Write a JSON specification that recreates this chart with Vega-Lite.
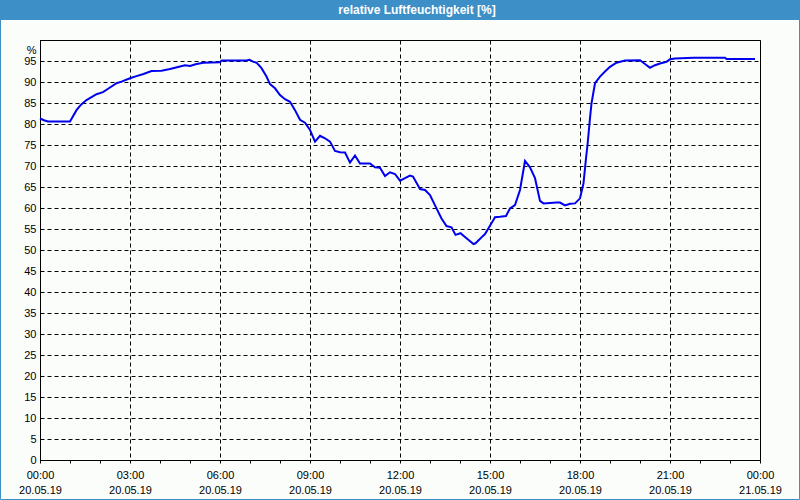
{
  "$schema": "https://vega.github.io/schema/vega-lite/v6.json",
  "width": 720,
  "height": 420,
  "autosize": {"type": "none"},
  "padding": {"left": 40, "top": 40, "right": 40, "bottom": 40},
  "background": "#fbfdfb",
  "title": {
    "text": "relative Luftfeuchtigkeit [%]",
    "color": "#ffffff",
    "font": "Liberation Sans",
    "fontSize": 12,
    "fontWeight": "bold",
    "anchor": "middle",
    "frame": "group",
    "baseline": "middle",
    "offset": 0,
    "dy": 22,
    "dx": 17
  },
  "config": {
    "view": {"stroke": "#000000", "strokeWidth": 1},
    "axis": {
      "labelFont": "Liberation Sans",
      "labelFontSize": 11,
      "labelColor": "#000000",
      "domainColor": "#000000",
      "tickColor": "#000000",
      "gridColor": "#000000",
      "gridDash": [4, 3],
      "gridWidth": 1,
      "title": null
    }
  },
  "layer": [
    {
      "data": {
        "values": [
          {"zeit": "2019-05-20T00:00:00Z", "rh": 81.3},
          {"zeit": "2019-05-20T00:08:00Z", "rh": 80.9},
          {"zeit": "2019-05-20T00:16:00Z", "rh": 80.6},
          {"zeit": "2019-05-20T01:00:00Z", "rh": 80.6},
          {"zeit": "2019-05-20T01:13:00Z", "rh": 83.3},
          {"zeit": "2019-05-20T01:22:00Z", "rh": 84.6},
          {"zeit": "2019-05-20T01:33:00Z", "rh": 85.7},
          {"zeit": "2019-05-20T01:53:00Z", "rh": 87.1},
          {"zeit": "2019-05-20T02:06:00Z", "rh": 87.6},
          {"zeit": "2019-05-20T02:20:00Z", "rh": 88.7},
          {"zeit": "2019-05-20T02:33:00Z", "rh": 89.7},
          {"zeit": "2019-05-20T02:43:00Z", "rh": 90.1},
          {"zeit": "2019-05-20T03:00:00Z", "rh": 90.9},
          {"zeit": "2019-05-20T03:13:00Z", "rh": 91.4},
          {"zeit": "2019-05-20T03:27:00Z", "rh": 91.9},
          {"zeit": "2019-05-20T03:43:00Z", "rh": 92.6},
          {"zeit": "2019-05-20T04:03:00Z", "rh": 92.7},
          {"zeit": "2019-05-20T04:20:00Z", "rh": 93.1},
          {"zeit": "2019-05-20T04:40:00Z", "rh": 93.7},
          {"zeit": "2019-05-20T04:50:00Z", "rh": 94.0},
          {"zeit": "2019-05-20T05:00:00Z", "rh": 93.8},
          {"zeit": "2019-05-20T05:13:00Z", "rh": 94.3},
          {"zeit": "2019-05-20T05:27:00Z", "rh": 94.6},
          {"zeit": "2019-05-20T06:00:00Z", "rh": 94.7},
          {"zeit": "2019-05-20T06:03:00Z", "rh": 95.1},
          {"zeit": "2019-05-20T06:53:00Z", "rh": 95.1},
          {"zeit": "2019-05-20T06:59:00Z", "rh": 95.3},
          {"zeit": "2019-05-20T07:07:00Z", "rh": 94.8},
          {"zeit": "2019-05-20T07:13:00Z", "rh": 94.6},
          {"zeit": "2019-05-20T07:23:00Z", "rh": 93.3},
          {"zeit": "2019-05-20T07:33:00Z", "rh": 91.3},
          {"zeit": "2019-05-20T07:40:00Z", "rh": 89.5},
          {"zeit": "2019-05-20T07:50:00Z", "rh": 88.5},
          {"zeit": "2019-05-20T08:00:00Z", "rh": 86.9},
          {"zeit": "2019-05-20T08:10:00Z", "rh": 85.9},
          {"zeit": "2019-05-20T08:20:00Z", "rh": 85.3},
          {"zeit": "2019-05-20T08:30:00Z", "rh": 83.3},
          {"zeit": "2019-05-20T08:40:00Z", "rh": 81.0},
          {"zeit": "2019-05-20T08:50:00Z", "rh": 80.3},
          {"zeit": "2019-05-20T09:00:00Z", "rh": 78.6},
          {"zeit": "2019-05-20T09:10:00Z", "rh": 75.8},
          {"zeit": "2019-05-20T09:20:00Z", "rh": 77.2},
          {"zeit": "2019-05-20T09:30:00Z", "rh": 76.6},
          {"zeit": "2019-05-20T09:40:00Z", "rh": 75.8},
          {"zeit": "2019-05-20T09:50:00Z", "rh": 73.6},
          {"zeit": "2019-05-20T10:00:00Z", "rh": 73.3},
          {"zeit": "2019-05-20T10:10:00Z", "rh": 73.2},
          {"zeit": "2019-05-20T10:20:00Z", "rh": 70.8},
          {"zeit": "2019-05-20T10:30:00Z", "rh": 72.5},
          {"zeit": "2019-05-20T10:40:00Z", "rh": 70.6},
          {"zeit": "2019-05-20T11:00:00Z", "rh": 70.6},
          {"zeit": "2019-05-20T11:10:00Z", "rh": 69.7},
          {"zeit": "2019-05-20T11:20:00Z", "rh": 69.6},
          {"zeit": "2019-05-20T11:30:00Z", "rh": 67.6},
          {"zeit": "2019-05-20T11:40:00Z", "rh": 68.5},
          {"zeit": "2019-05-20T11:50:00Z", "rh": 68.1},
          {"zeit": "2019-05-20T12:00:00Z", "rh": 66.5},
          {"zeit": "2019-05-20T12:10:00Z", "rh": 67.1},
          {"zeit": "2019-05-20T12:20:00Z", "rh": 67.7},
          {"zeit": "2019-05-20T12:26:00Z", "rh": 67.5},
          {"zeit": "2019-05-20T12:40:00Z", "rh": 64.5},
          {"zeit": "2019-05-20T12:50:00Z", "rh": 64.3},
          {"zeit": "2019-05-20T13:00:00Z", "rh": 63.1},
          {"zeit": "2019-05-20T13:13:00Z", "rh": 59.9},
          {"zeit": "2019-05-20T13:23:00Z", "rh": 57.5},
          {"zeit": "2019-05-20T13:33:00Z", "rh": 55.7},
          {"zeit": "2019-05-20T13:43:00Z", "rh": 55.4},
          {"zeit": "2019-05-20T13:51:00Z", "rh": 53.6},
          {"zeit": "2019-05-20T14:01:00Z", "rh": 54.0},
          {"zeit": "2019-05-20T14:13:00Z", "rh": 52.8},
          {"zeit": "2019-05-20T14:27:00Z", "rh": 51.4},
          {"zeit": "2019-05-20T14:31:00Z", "rh": 51.6},
          {"zeit": "2019-05-20T14:43:00Z", "rh": 53.0},
          {"zeit": "2019-05-20T14:50:00Z", "rh": 53.8},
          {"zeit": "2019-05-20T14:57:00Z", "rh": 55.2},
          {"zeit": "2019-05-20T15:10:00Z", "rh": 57.8},
          {"zeit": "2019-05-20T15:20:00Z", "rh": 57.9},
          {"zeit": "2019-05-20T15:32:00Z", "rh": 58.1},
          {"zeit": "2019-05-20T15:40:00Z", "rh": 59.9},
          {"zeit": "2019-05-20T15:50:00Z", "rh": 60.7},
          {"zeit": "2019-05-20T16:00:00Z", "rh": 64.3},
          {"zeit": "2019-05-20T16:10:00Z", "rh": 71.2},
          {"zeit": "2019-05-20T16:20:00Z", "rh": 69.7},
          {"zeit": "2019-05-20T16:30:00Z", "rh": 67.1},
          {"zeit": "2019-05-20T16:40:00Z", "rh": 61.7},
          {"zeit": "2019-05-20T16:47:00Z", "rh": 61.1},
          {"zeit": "2019-05-20T17:13:00Z", "rh": 61.3},
          {"zeit": "2019-05-20T17:20:00Z", "rh": 61.3},
          {"zeit": "2019-05-20T17:30:00Z", "rh": 60.6},
          {"zeit": "2019-05-20T17:40:00Z", "rh": 61.0},
          {"zeit": "2019-05-20T17:50:00Z", "rh": 61.1},
          {"zeit": "2019-05-20T18:00:00Z", "rh": 62.3},
          {"zeit": "2019-05-20T18:07:00Z", "rh": 65.9},
          {"zeit": "2019-05-20T18:12:00Z", "rh": 71.8},
          {"zeit": "2019-05-20T18:15:00Z", "rh": 75.0},
          {"zeit": "2019-05-20T18:20:00Z", "rh": 81.4},
          {"zeit": "2019-05-20T18:23:00Z", "rh": 84.9},
          {"zeit": "2019-05-20T18:30:00Z", "rh": 89.7},
          {"zeit": "2019-05-20T18:40:00Z", "rh": 91.3},
          {"zeit": "2019-05-20T18:50:00Z", "rh": 92.5},
          {"zeit": "2019-05-20T19:00:00Z", "rh": 93.6},
          {"zeit": "2019-05-20T19:13:00Z", "rh": 94.6},
          {"zeit": "2019-05-20T19:30:00Z", "rh": 95.1},
          {"zeit": "2019-05-20T20:00:00Z", "rh": 95.2},
          {"zeit": "2019-05-20T20:10:00Z", "rh": 94.3},
          {"zeit": "2019-05-20T20:20:00Z", "rh": 93.4},
          {"zeit": "2019-05-20T20:30:00Z", "rh": 94.0},
          {"zeit": "2019-05-20T20:40:00Z", "rh": 94.4},
          {"zeit": "2019-05-20T20:53:00Z", "rh": 94.8},
          {"zeit": "2019-05-20T21:00:00Z", "rh": 95.4},
          {"zeit": "2019-05-20T21:10:00Z", "rh": 95.6},
          {"zeit": "2019-05-20T21:47:00Z", "rh": 95.8},
          {"zeit": "2019-05-20T22:50:00Z", "rh": 95.8},
          {"zeit": "2019-05-20T22:53:00Z", "rh": 95.5},
          {"zeit": "2019-05-20T23:50:00Z", "rh": 95.5}
        ]
      },
      "mark": {"type": "line", "color": "#0000ee", "strokeWidth": 2},
      "encoding": {
        "x": {
          "field": "zeit",
          "type": "temporal",
          "scale": {"type": "utc", "domain": [1558310400000, 1558396800000]},
          "axis": {
            "values": [1558310400000, 1558314000000, 1558317600000, 1558321200000, 1558324800000, 1558328400000, 1558332000000, 1558335600000, 1558339200000, 1558342800000, 1558346400000, 1558350000000, 1558353600000, 1558357200000, 1558360800000, 1558364400000, 1558368000000, 1558371600000, 1558375200000, 1558378800000, 1558382400000, 1558386000000, 1558389600000, 1558393200000, 1558396800000],
            "grid": true,
            "gridOpacity": {"condition": {"test": "utchours(datum.value) % 3 == 0", "value": 1}, "value": 0},
            "ticks": true,
            "tickSize": 3,
            "labelPadding": 6,
            "labelBaseline": "top",
            "labelLineHeight": 15,
            "labelOverlap": false,
            "labelFlush": false,
            "labelBound": false,
            "labelExpr": "utchours(datum.value) % 3 == 0 ? [utcFormat(datum.value, '%H:%M'), utcFormat(datum.value, '%d.%m.%y')] : ''"
          }
        },
        "y": {
          "field": "rh",
          "type": "quantitative",
          "scale": {"domain": [0, 100]},
          "axis": {
            "values": [0, 5, 10, 15, 20, 25, 30, 35, 40, 45, 50, 55, 60, 65, 70, 75, 80, 85, 90, 95, 100],
            "grid": true,
            "ticks": false,
            "tickSize": 0,
            "labelPadding": 4,
            "labelLineHeight": 10,
            "labelOverlap": false,
            "labelFlush": false,
            "labelExpr": "datum.value == 100 ? ['', '%'] : datum.label"
          }
        }
      }
    },
    {
      "data": {"values": [{"teil": "Titelleiste"}]},
      "mark": {"type": "rect", "color": "#3d8fc7"},
      "encoding": {
        "x": {
          "datum": 1558305600000,
          "type": "temporal",
          "scale": {"type": "utc", "domain": [1558310400000, 1558396800000]},
          "axis": {
            "values": [1558310400000, 1558314000000, 1558317600000, 1558321200000, 1558324800000, 1558328400000, 1558332000000, 1558335600000, 1558339200000, 1558342800000, 1558346400000, 1558350000000, 1558353600000, 1558357200000, 1558360800000, 1558364400000, 1558368000000, 1558371600000, 1558375200000, 1558378800000, 1558382400000, 1558386000000, 1558389600000, 1558393200000, 1558396800000],
            "grid": true,
            "gridOpacity": {"condition": {"test": "utchours(datum.value) % 3 == 0", "value": 1}, "value": 0},
            "ticks": true,
            "tickSize": 3,
            "labelPadding": 6,
            "labelBaseline": "top",
            "labelLineHeight": 15,
            "labelOverlap": false,
            "labelFlush": false,
            "labelBound": false,
            "labelExpr": "utchours(datum.value) % 3 == 0 ? [utcFormat(datum.value, '%H:%M'), utcFormat(datum.value, '%d.%m.%y')] : ''"
          }
        },
        "x2": {"datum": 1558401600000},
        "y": {
          "datum": 109.6,
          "type": "quantitative",
          "scale": {"domain": [0, 100]},
          "axis": {
            "values": [0, 5, 10, 15, 20, 25, 30, 35, 40, 45, 50, 55, 60, 65, 70, 75, 80, 85, 90, 95, 100],
            "grid": true,
            "ticks": false,
            "tickSize": 0,
            "labelPadding": 4,
            "labelLineHeight": 10,
            "labelOverlap": false,
            "labelFlush": false,
            "labelExpr": "datum.value == 100 ? ['', '%'] : datum.label"
          }
        },
        "y2": {"datum": 104.76}
      }
    },
    {
      "data": {"values": [{"teil": "Rahmen"}]},
      "mark": {"type": "rect", "fillOpacity": 0, "stroke": "#3d8fc7", "strokeWidth": 1},
      "encoding": {
        "x": {
          "datum": 1558305660000,
          "type": "temporal",
          "scale": {"type": "utc", "domain": [1558310400000, 1558396800000]},
          "axis": {
            "values": [1558310400000, 1558314000000, 1558317600000, 1558321200000, 1558324800000, 1558328400000, 1558332000000, 1558335600000, 1558339200000, 1558342800000, 1558346400000, 1558350000000, 1558353600000, 1558357200000, 1558360800000, 1558364400000, 1558368000000, 1558371600000, 1558375200000, 1558378800000, 1558382400000, 1558386000000, 1558389600000, 1558393200000, 1558396800000],
            "grid": true,
            "gridOpacity": {"condition": {"test": "utchours(datum.value) % 3 == 0", "value": 1}, "value": 0},
            "ticks": true,
            "tickSize": 3,
            "labelPadding": 6,
            "labelBaseline": "top",
            "labelLineHeight": 15,
            "labelOverlap": false,
            "labelFlush": false,
            "labelBound": false,
            "labelExpr": "utchours(datum.value) % 3 == 0 ? [utcFormat(datum.value, '%H:%M'), utcFormat(datum.value, '%d.%m.%y')] : ''"
          }
        },
        "x2": {"datum": 1558401540000},
        "y": {
          "datum": 109.405,
          "type": "quantitative",
          "scale": {"domain": [0, 100]},
          "axis": {
            "values": [0, 5, 10, 15, 20, 25, 30, 35, 40, 45, 50, 55, 60, 65, 70, 75, 80, 85, 90, 95, 100],
            "grid": true,
            "ticks": false,
            "tickSize": 0,
            "labelPadding": 4,
            "labelLineHeight": 10,
            "labelOverlap": false,
            "labelFlush": false,
            "labelExpr": "datum.value == 100 ? ['', '%'] : datum.label"
          }
        },
        "y2": {"datum": -9.405}
      }
    }
  ]
}
